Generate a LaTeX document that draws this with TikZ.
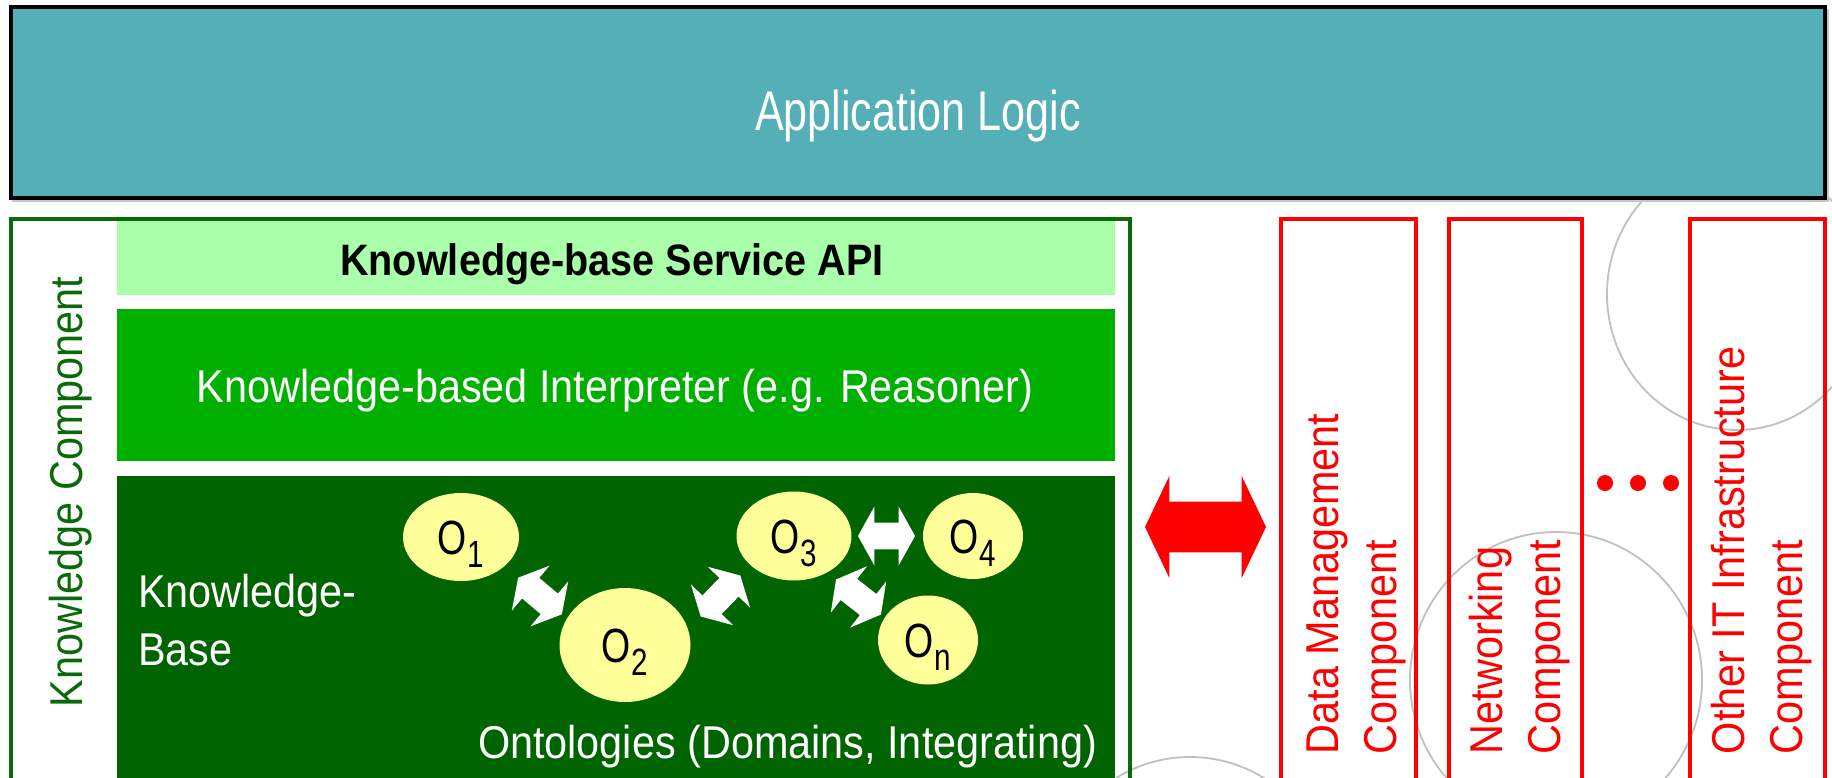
\documentclass[tikz,border=0pt]{standalone}
\usepackage{fontspec}
\setmainfont{Liberation Sans}[FakeStretch=0.9]
\newfontfamily\appfont{Liberation Sans}[FakeStretch=0.77]
\newfontfamily\ontofont{Liberation Sans}[FakeStretch=0.78]
\usetikzlibrary{shapes.arrows,shapes.geometric}

\definecolor{appteal}{RGB}{84,175,183}
\definecolor{kcgreen}{RGB}{10,106,10}
\definecolor{apigreen}{RGB}{170,255,170}
\definecolor{intgreen}{RGB}{0,176,0}
\definecolor{kbgreen}{RGB}{0,100,0}
\definecolor{ontofill}{RGB}{255,255,153}
\definecolor{ghost}{RGB}{192,192,192}

% subscript index of an ontology label
\newcommand\osub[1]{\kern0.3pt\raisebox{-6.5pt}{\fontsize{19}{19}\selectfont #1}}

\begin{document}
\begin{tikzpicture}[x=0.5pt, y=-0.5pt,
  every node/.style={inner sep=0pt, outer sep=0pt},
  txt/.style={font=\fontsize{23}{29}\selectfont},
  lbl/.style={txt, text=white},
  redlbl/.style={txt, text=red, rotate=90, align=left, anchor=north west},
  onto/.style={ellipse, fill=ontofill, text=black, font=\ontofont\fontsize{24}{24}\selectfont,
    text height=17pt, text depth=0pt},
  link/.style={double arrow, fill=white, minimum height=28.5pt, minimum width=29pt,
    text height=6.5pt, text depth=6.5pt,
    double arrow head extend=8pt, double arrow tip angle=122},
  infra/.style={draw=red, line width=2.3pt},
  ghostline/.style={draw=ghost, line width=0.9pt}
]
\useasboundingbox (0,0) rectangle (1832,777);
\clip (0,0) rectangle (1832,777);
\fill[white] (0,0) rectangle (1832,777);

% faint background circles
\path[ghostline] (1737,294) ellipse [x radius=65pt, y radius=68pt];
\path[ghostline] (1556,680) ellipse [x radius=73pt, y radius=74pt];
\path[ghostline] (1190,897) circle [radius=70pt];

% application layer
\fill[gray!45] (12,9) rectangle (1829,202);
\draw[black, line width=2.2pt, fill=appteal] (11,7) rectangle (1825,198);
\node[font=\appfont\fontsize{28}{34}\selectfont, text=white, anchor=base] (app) at (918,130) {Application Logic};

% knowledge component frame and its layers
\draw[kcgreen, line width=2.3pt] (11,219) rectangle (1130,830);
\fill[apigreen] (117,221) rectangle (1115,295);
\fill[intgreen] (117,309) rectangle (1115,461);
\fill[kbgreen] (117,476) rectangle (1115,830);

\node[font=\bfseries\fontsize{22}{26}\selectfont, anchor=base] (api) at (612,275) {Knowledge-base Service API};
\node[lbl, anchor=base] (interp) at (615,402) {Knowledge-based Interpreter (e.g. Reasoner)};
\node[lbl, anchor=north west, align=left] (kb) at (138,574) {Knowledge-\\Base};
\node[lbl, anchor=base west] (ontos) at (478,758) {Ontologies (Domains, Integrating)};
\node[txt, text=kcgreen, rotate=90, anchor=base west] (kc) at (82,707) {Knowledge Component};

% ontologies
\node[onto, minimum width=58pt, minimum height=44pt] (o1) at (461,537) {O\osub{1}};
\node[onto, minimum width=65.5pt, minimum height=57pt] (o2) at (625,645) {O\osub{2}};
\node[onto, minimum width=57.5pt, minimum height=44.5pt] (o3) at (794,536) {O\osub{3}};
\node[onto, minimum width=50pt, minimum height=43pt] (o4) at (973,536) {O\osub{4}};
\node[onto, minimum width=50pt, minimum height=44.5pt] (on) at (928,640) {O\osub{n}};

% links between ontologies
\node[link, rotate=-40] (l12) at (540,596) {};
\node[link, rotate=46] (l23) at (720.5,596) {};
\node[link, rotate=-38] (l3n) at (858.5,597) {};
\node[link] (l34) at (886.5,536) {};

% link to the infrastructure components
\node[double arrow, fill=red, minimum height=60.5pt, minimum width=50.5pt,
  text height=12.5pt, text depth=12.5pt,
  double arrow head extend=12.75pt, double arrow tip angle=129] (xlink) at (1205.5,527) {};

% infrastructure components
\path[infra] (1281,219) rectangle (1416,830);
\path[infra] (1449,219) rectangle (1582,830);
\path[infra] (1690,219) rectangle (1825,830);
\node[redlbl] (dm) at (1306.5,754) {Data Management\\Component};
\node[redlbl] (nw) at (1469.5,754) {Networking\\Component};
\node[redlbl] (it) at (1711.5,754) {Other IT Infrastructure\\Component};

% ellipsis between the components
\fill[red] (1605,483) circle [radius=4pt];
\fill[red] (1638,483) circle [radius=4pt];
\fill[red] (1671,483) circle [radius=4pt];
\end{tikzpicture}
\end{document}
